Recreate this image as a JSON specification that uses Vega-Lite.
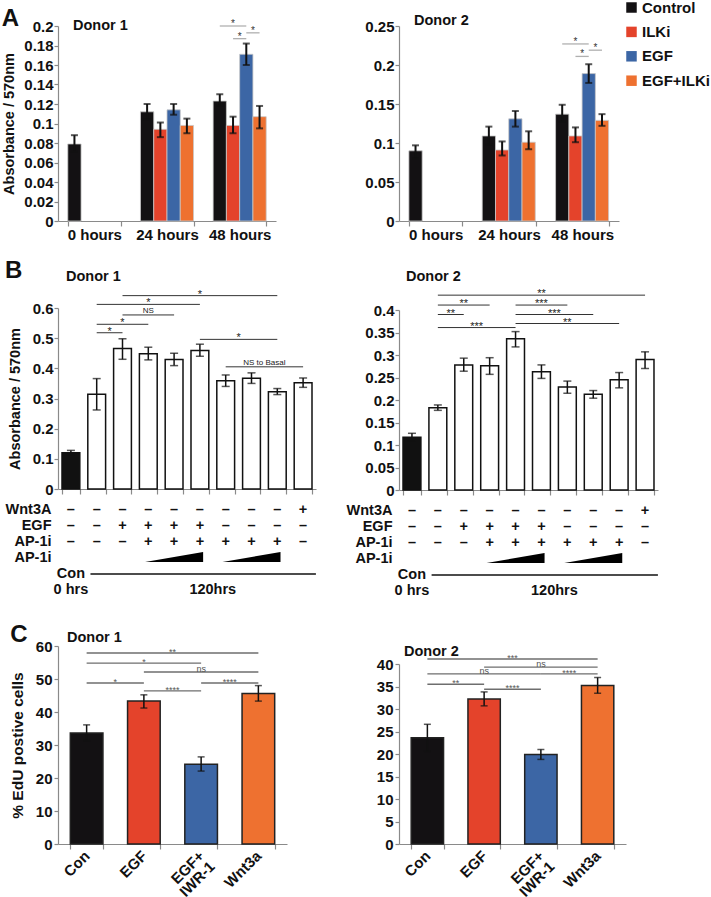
{
  "$schema": "https://vega.github.io/schema/vega-lite/v6.json",
  "background": "white",
  "padding": {"left": 1, "top": 0, "right": 0, "bottom": 20},
  "spacing": 29,
  "resolve": {"scale": {"color": "independent"}, "legend": {"color": "independent"}},
  "datasets": {
    "a1": [
      {"time": "0 hours", "treatment": "Control", "mean": 0.079, "lo": 0.071, "hi": 0.088},
      {"time": "24 hours", "treatment": "Control", "mean": 0.112, "lo": 0.104, "hi": 0.120},
      {"time": "24 hours", "treatment": "ILKi", "mean": 0.094, "lo": 0.086, "hi": 0.101},
      {"time": "24 hours", "treatment": "EGF", "mean": 0.114, "lo": 0.109, "hi": 0.120},
      {"time": "24 hours", "treatment": "EGF+ILKi", "mean": 0.098, "lo": 0.090, "hi": 0.105},
      {"time": "48 hours", "treatment": "Control", "mean": 0.123, "lo": 0.118, "hi": 0.130},
      {"time": "48 hours", "treatment": "ILKi", "mean": 0.098, "lo": 0.090, "hi": 0.107},
      {"time": "48 hours", "treatment": "EGF", "mean": 0.171, "lo": 0.160, "hi": 0.182},
      {"time": "48 hours", "treatment": "EGF+ILKi", "mean": 0.107, "lo": 0.095, "hi": 0.118}
    ],
    "a1lines": [
      {"id": "a", "time": "48 hours", "treatment": "Control", "y": 0.2},
      {"id": "a", "time": "48 hours", "treatment": "EGF", "y": 0.2},
      {"id": "b", "time": "48 hours", "treatment": "ILKi", "y": 0.187},
      {"id": "b", "time": "48 hours", "treatment": "EGF", "y": 0.187},
      {"id": "c", "time": "48 hours", "treatment": "EGF", "y": 0.193},
      {"id": "c", "time": "48 hours", "treatment": "EGF+ILKi", "y": 0.193}
    ],
    "a1stars": [
      {"time": "48 hours", "at": "ILKi", "y": 0.2, "label": "*", "pos": "center"},
      {"time": "48 hours", "at": "ILKi", "y": 0.187, "label": "*", "pos": "between"},
      {"time": "48 hours", "at": "EGF", "y": 0.193, "label": "*", "pos": "between"}
    ],
    "a2": [
      {"time": "0 hours", "treatment": "Control", "mean": 0.090, "lo": 0.080, "hi": 0.097},
      {"time": "24 hours", "treatment": "Control", "mean": 0.109, "lo": 0.098, "hi": 0.121},
      {"time": "24 hours", "treatment": "ILKi", "mean": 0.091, "lo": 0.084, "hi": 0.102},
      {"time": "24 hours", "treatment": "EGF", "mean": 0.131, "lo": 0.121, "hi": 0.141},
      {"time": "24 hours", "treatment": "EGF+ILKi", "mean": 0.101, "lo": 0.092, "hi": 0.115},
      {"time": "48 hours", "treatment": "Control", "mean": 0.137, "lo": 0.127, "hi": 0.149},
      {"time": "48 hours", "treatment": "ILKi", "mean": 0.109, "lo": 0.101, "hi": 0.120},
      {"time": "48 hours", "treatment": "EGF", "mean": 0.189, "lo": 0.177, "hi": 0.201},
      {"time": "48 hours", "treatment": "EGF+ILKi", "mean": 0.129, "lo": 0.122, "hi": 0.137}
    ],
    "a2lines": [
      {"id": "a", "time": "48 hours", "treatment": "Control", "y": 0.227},
      {"id": "a", "time": "48 hours", "treatment": "EGF", "y": 0.227},
      {"id": "b", "time": "48 hours", "treatment": "ILKi", "y": 0.211},
      {"id": "b", "time": "48 hours", "treatment": "EGF", "y": 0.211},
      {"id": "c", "time": "48 hours", "treatment": "EGF", "y": 0.219},
      {"id": "c", "time": "48 hours", "treatment": "EGF+ILKi", "y": 0.219}
    ],
    "a2stars": [
      {"time": "48 hours", "at": "ILKi", "y": 0.227, "label": "*", "pos": "center"},
      {"time": "48 hours", "at": "ILKi", "y": 0.211, "label": "*", "pos": "between"},
      {"time": "48 hours", "at": "EGF", "y": 0.219, "label": "*", "pos": "between"}
    ],
    "b1": [
      {"cond": "1", "group": "basal", "mean": 0.120, "lo": 0.112, "hi": 0.128},
      {"cond": "2", "group": "treated", "mean": 0.314, "lo": 0.262, "hi": 0.366},
      {"cond": "3", "group": "treated", "mean": 0.466, "lo": 0.430, "hi": 0.498},
      {"cond": "4", "group": "treated", "mean": 0.448, "lo": 0.428, "hi": 0.470},
      {"cond": "5", "group": "treated", "mean": 0.429, "lo": 0.409, "hi": 0.450},
      {"cond": "6", "group": "treated", "mean": 0.459, "lo": 0.440, "hi": 0.480},
      {"cond": "7", "group": "treated", "mean": 0.359, "lo": 0.340, "hi": 0.378},
      {"cond": "8", "group": "treated", "mean": 0.367, "lo": 0.350, "hi": 0.385},
      {"cond": "9", "group": "treated", "mean": 0.322, "lo": 0.313, "hi": 0.333},
      {"cond": "10", "group": "treated", "mean": 0.352, "lo": 0.337, "hi": 0.368}
    ],
    "b1sig": [
      {"from": "3", "to": "9", "y": 0.641, "label": "*", "at": "6", "pos": "center"},
      {"from": "2", "to": "6", "y": 0.612, "label": "*", "at": "4", "pos": "center"},
      {"from": "3", "to": "5", "y": 0.577, "label": "NS", "at": "4", "pos": "center"},
      {"from": "2", "to": "4", "y": 0.546, "label": "*", "at": "3", "pos": "center"},
      {"from": "2", "to": "3", "y": 0.518, "label": "*", "at": "2", "pos": "between"},
      {"from": "6", "to": "9", "y": 0.496, "label": "*", "at": "7", "pos": "between"},
      {"from": "7", "to": "10", "y": 0.405, "label": "NS to Basal", "at": "8", "pos": "between"}
    ],
    "b2": [
      {"cond": "1", "group": "basal", "mean": 0.117, "lo": 0.109, "hi": 0.126},
      {"cond": "2", "group": "treated", "mean": 0.183, "lo": 0.177, "hi": 0.189},
      {"cond": "3", "group": "treated", "mean": 0.278, "lo": 0.264, "hi": 0.293},
      {"cond": "4", "group": "treated", "mean": 0.276, "lo": 0.257, "hi": 0.294},
      {"cond": "5", "group": "treated", "mean": 0.336, "lo": 0.318, "hi": 0.352},
      {"cond": "6", "group": "treated", "mean": 0.263, "lo": 0.248, "hi": 0.278},
      {"cond": "7", "group": "treated", "mean": 0.229, "lo": 0.215, "hi": 0.242},
      {"cond": "8", "group": "treated", "mean": 0.213, "lo": 0.204, "hi": 0.221},
      {"cond": "9", "group": "treated", "mean": 0.245, "lo": 0.227, "hi": 0.261},
      {"cond": "10", "group": "treated", "mean": 0.290, "lo": 0.270, "hi": 0.307}
    ],
    "b2sig": [
      {"from": "2", "to": "10", "y": 0.433, "label": "**", "at": "6", "pos": "center"},
      {"from": "2", "to": "4", "y": 0.411, "label": "**", "at": "3", "pos": "center"},
      {"from": "5", "to": "7", "y": 0.411, "label": "***", "at": "6", "pos": "center"},
      {"from": "2", "to": "3", "y": 0.390, "label": "**", "at": "2", "pos": "between"},
      {"from": "5", "to": "8", "y": 0.390, "label": "***", "at": "6", "pos": "between"},
      {"from": "5", "to": "9", "y": 0.370, "label": "**", "at": "7", "pos": "center"},
      {"from": "2", "to": "5", "y": 0.361, "label": "***", "at": "3", "pos": "between"}
    ],
    "btab": [
      {"cond": "1", "row": "Wnt3A", "sym": "–"}, {"cond": "2", "row": "Wnt3A", "sym": "–"}, {"cond": "3", "row": "Wnt3A", "sym": "–"}, {"cond": "4", "row": "Wnt3A", "sym": "–"}, {"cond": "5", "row": "Wnt3A", "sym": "–"},
      {"cond": "6", "row": "Wnt3A", "sym": "–"}, {"cond": "7", "row": "Wnt3A", "sym": "–"}, {"cond": "8", "row": "Wnt3A", "sym": "–"}, {"cond": "9", "row": "Wnt3A", "sym": "–"}, {"cond": "10", "row": "Wnt3A", "sym": "+"},
      {"cond": "1", "row": "EGF", "sym": "–"}, {"cond": "2", "row": "EGF", "sym": "–"}, {"cond": "3", "row": "EGF", "sym": "+"}, {"cond": "4", "row": "EGF", "sym": "+"}, {"cond": "5", "row": "EGF", "sym": "+"},
      {"cond": "6", "row": "EGF", "sym": "+"}, {"cond": "7", "row": "EGF", "sym": "–"}, {"cond": "8", "row": "EGF", "sym": "–"}, {"cond": "9", "row": "EGF", "sym": "–"}, {"cond": "10", "row": "EGF", "sym": "–"},
      {"cond": "1", "row": "AP-1i", "sym": "–"}, {"cond": "2", "row": "AP-1i", "sym": "–"}, {"cond": "3", "row": "AP-1i", "sym": "–"}, {"cond": "4", "row": "AP-1i", "sym": "+"}, {"cond": "5", "row": "AP-1i", "sym": "+"},
      {"cond": "6", "row": "AP-1i", "sym": "+"}, {"cond": "7", "row": "AP-1i", "sym": "+"}, {"cond": "8", "row": "AP-1i", "sym": "+"}, {"cond": "9", "row": "AP-1i", "sym": "+"}, {"cond": "10", "row": "AP-1i", "sym": "–"},
      {"cond": "1", "row": "time1", "sym": "Con"}, {"cond": "1", "row": "time2", "sym": "0 hrs"}
    ],
    "bwedge": [
      {"cond": "5", "row": "AP-1i dose"},
      {"cond": "8", "row": "AP-1i dose"}
    ],
    "bperiod": [
      {"from": "2", "to": "10", "linerow": "time1", "label": "120hrs", "at": "6", "row": "time2"}
    ],
    "c1": [
      {"cond": "Con", "mean": 33.6, "lo": 31.3, "hi": 36.1},
      {"cond": "EGF", "mean": 43.3, "lo": 41.2, "hi": 45.2},
      {"cond": "EGF+IWR-1", "mean": 24.2, "lo": 22.1, "hi": 26.4},
      {"cond": "Wnt3a", "mean": 45.6, "lo": 43.3, "hi": 48.0}
    ],
    "c1sig": [
      {"from": "Con", "to": "Wnt3a", "y": 57.9, "label": "**", "at": "EGF", "pos": "between"},
      {"from": "Con", "to": "EGF+IWR-1", "y": 54.8, "label": "*", "at": "EGF", "pos": "center"},
      {"from": "EGF", "to": "Wnt3a", "y": 52.1, "label": "ns", "at": "EGF+IWR-1", "pos": "center"},
      {"from": "Con", "to": "EGF", "y": 48.8, "label": "*", "at": "Con", "pos": "between"},
      {"from": "EGF+IWR-1", "to": "Wnt3a", "y": 48.8, "label": "****", "at": "EGF+IWR-1", "pos": "between"},
      {"from": "EGF", "to": "EGF+IWR-1", "y": 46.4, "label": "****", "at": "EGF", "pos": "between"}
    ],
    "c2": [
      {"cond": "Con", "mean": 23.6, "lo": 20.6, "hi": 26.6},
      {"cond": "EGF", "mean": 32.2, "lo": 30.7, "hi": 33.8},
      {"cond": "EGF+IWR-1", "mean": 19.9, "lo": 18.8, "hi": 21.0},
      {"cond": "Wnt3a", "mean": 35.2, "lo": 33.5, "hi": 37.0}
    ],
    "c2sig": [
      {"from": "Con", "to": "Wnt3a", "y": 41.1, "label": "***", "at": "EGF", "pos": "between"},
      {"from": "EGF", "to": "Wnt3a", "y": 39.3, "label": "ns", "at": "EGF+IWR-1", "pos": "center"},
      {"from": "Con", "to": "EGF+IWR-1", "y": 37.8, "label": "ns", "at": "EGF", "pos": "center"},
      {"from": "EGF+IWR-1", "to": "Wnt3a", "y": 37.8, "label": "****", "at": "EGF+IWR-1", "pos": "between"},
      {"from": "Con", "to": "EGF", "y": 35.5, "label": "**", "at": "Con", "pos": "between"},
      {"from": "EGF", "to": "EGF+IWR-1", "y": 34.4, "label": "****", "at": "EGF", "pos": "between"}
    ]
  },
  "hconcat": [
    {
      "spacing": 17,
      "resolve": {"scale": {"color": "independent"}, "legend": {"color": "independent"}},
      "vconcat": [
        {
          "title": {"text": "A", "fontSize": 24, "frame": "bounds", "anchor": "start", "offset": -13},
          "resolve": {"scale": {"color": "independent"}, "legend": {"color": "independent"}},
          "vconcat": [
            {
              "width": 218, "height": 195,
              "title": {"text": "Donor 1", "fontSize": 14.5, "dx": 15, "offset": -14},
              "layer": [
                {"data": {"name": "a1"}, "mark": {"type": "bar", "stroke": "#c8c8c8", "strokeWidth": 0.8},
                 "encoding": {
                   "x": {"field": "time", "type": "nominal", "scale": {"domain": ["0 hours", "24 hours", "48 hours"], "paddingInner": 0.27, "paddingOuter": 0.135}, "axis": {"title": null, "labelAngle": 0, "tickBand": "extent", "tickSize": 5, "labelPadding": 1}},
                   "xOffset": {"field": "treatment", "type": "nominal", "scale": {"domain": ["Control", "ILKi", "EGF", "EGF+ILKi"], "paddingInner": 0, "paddingOuter": 0}},
                   "y": {"field": "mean", "type": "quantitative", "scale": {"domain": [0, 0.2], "nice": false}, "axis": {"title": "Absorbance / 570nm", "values": [0, 0.02, 0.04, 0.06, 0.08, 0.1, 0.12, 0.14, 0.16, 0.18, 0.2], "tickCount": 40, "format": "~g", "labelOverlap": false, "tickSize": 4, "labelPadding": 1, "titlePadding": 7}},
                   "color": {"field": "treatment", "type": "nominal", "scale": {"domain": ["Control", "ILKi", "EGF", "EGF+ILKi"], "range": ["#131113", "#E4432B", "#3C66A5", "#EE7130"]}, "legend": null}
                 }},
                {"data": {"name": "a1"}, "mark": {"type": "rule", "color": "#111", "strokeWidth": 2},
                 "encoding": {"x": {"field": "time", "type": "nominal"}, "xOffset": {"field": "treatment", "type": "nominal"}, "y": {"field": "lo", "type": "quantitative"}, "y2": {"field": "hi"}}},
                {"data": {"name": "a1"}, "mark": {"type": "tick", "color": "#111", "thickness": 2, "size": 7},
                 "encoding": {"x": {"field": "time", "type": "nominal"}, "xOffset": {"field": "treatment", "type": "nominal"}, "y": {"field": "lo", "type": "quantitative"}}},
                {"data": {"name": "a1"}, "mark": {"type": "tick", "color": "#111", "thickness": 2, "size": 7},
                 "encoding": {"x": {"field": "time", "type": "nominal"}, "xOffset": {"field": "treatment", "type": "nominal"}, "y": {"field": "hi", "type": "quantitative"}}},
                {"data": {"name": "a1lines"}, "mark": {"type": "line", "color": "#b0b0b0", "strokeWidth": 1.3},
                 "encoding": {"x": {"field": "time", "type": "nominal"}, "xOffset": {"field": "treatment", "type": "nominal"}, "y": {"field": "y", "type": "quantitative"}, "detail": {"field": "id", "type": "nominal"}}},
                {"data": {"name": "a1stars"}, "transform": [{"filter": "datum.pos == 'center'"}], "mark": {"type": "text", "fontSize": 10, "color": "#333", "baseline": "middle", "dy": -2},
                 "encoding": {"x": {"field": "time", "type": "nominal"}, "xOffset": {"field": "at", "type": "nominal"}, "y": {"field": "y", "type": "quantitative"}, "text": {"field": "label"}}},
                {"data": {"name": "a1stars"}, "transform": [{"filter": "datum.pos == 'between'"}], "mark": {"type": "text", "fontSize": 10, "color": "#333", "baseline": "middle", "dy": -2, "dx": 6.6},
                 "encoding": {"x": {"field": "time", "type": "nominal"}, "xOffset": {"field": "at", "type": "nominal"}, "y": {"field": "y", "type": "quantitative"}, "text": {"field": "label"}}}
              ]
            }
          ]
        },
        {
          "spacing": 24,
          "resolve": {"scale": {"color": "independent"}, "legend": {"color": "independent"}},
          "vconcat": [
            {
              "title": {"text": "B", "fontSize": 24, "frame": "bounds", "anchor": "start", "offset": -14},
              "spacing": 4,
              "resolve": {"scale": {"color": "independent"}, "legend": {"color": "independent"}},
              "vconcat": [
                {
                  "width": 258, "height": 181,
                  "title": {"text": "Donor 1", "fontSize": 14.5, "dx": 8, "offset": 4},
                  "layer": [
                    {"data": {"name": "b1"}, "transform": [{"filter": "datum.group == 'basal'"}], "mark": {"type": "bar", "fill": "#111", "stroke": "#111", "strokeWidth": 1.5},
                     "encoding": {
                       "x": {"field": "cond", "type": "ordinal", "scale": {"domain": ["1", "2", "3", "4", "5", "6", "7", "8", "9", "10"], "paddingInner": 0.31, "paddingOuter": 0.155}, "axis": {"title": null, "labels": false, "tickBand": "extent", "tickSize": 5}},
                       "y": {"field": "mean", "type": "quantitative", "scale": {"domain": [0, 0.6], "nice": false}, "axis": {"title": "Absorbance / 570nm", "values": [0, 0.1, 0.2, 0.3, 0.4, 0.5, 0.6], "tickCount": 40, "format": "~g", "labelOverlap": false, "tickSize": 4, "labelPadding": 1, "titlePadding": 10}}
                     }},
                    {"data": {"name": "b1"}, "transform": [{"filter": "datum.group != 'basal'"}], "mark": {"type": "bar", "fill": "#ffffff", "stroke": "#111", "strokeWidth": 1.5},
                     "encoding": {"x": {"field": "cond", "type": "ordinal"}, "y": {"field": "mean", "type": "quantitative"}}},
                    {"data": {"name": "b1"}, "mark": {"type": "rule", "color": "#111", "strokeWidth": 1.5},
                     "encoding": {"x": {"field": "cond", "type": "ordinal"}, "y": {"field": "lo", "type": "quantitative"}, "y2": {"field": "hi"}}},
                    {"data": {"name": "b1"}, "mark": {"type": "tick", "color": "#111", "thickness": 1.5, "size": 8},
                     "encoding": {"x": {"field": "cond", "type": "ordinal"}, "y": {"field": "lo", "type": "quantitative"}}},
                    {"data": {"name": "b1"}, "mark": {"type": "tick", "color": "#111", "thickness": 1.5, "size": 8},
                     "encoding": {"x": {"field": "cond", "type": "ordinal"}, "y": {"field": "hi", "type": "quantitative"}}},
                    {"data": {"name": "b1sig"}, "mark": {"type": "rule", "color": "#333", "strokeWidth": 1},
                     "encoding": {"x": {"field": "from", "type": "ordinal", "bandPosition": 0.5}, "x2": {"field": "to", "bandPosition": 0.5}, "y": {"field": "y", "type": "quantitative"}}},
                    {"data": {"name": "b1sig"}, "transform": [{"filter": "datum.pos == 'center' && indexof(datum.label, '*') >= 0"}], "mark": {"type": "text", "fontSize": 11, "color": "#222", "baseline": "middle", "dy": -1},
                     "encoding": {"x": {"field": "at", "type": "ordinal", "bandPosition": 0.5}, "y": {"field": "y", "type": "quantitative"}, "text": {"field": "label"}}},
                    {"data": {"name": "b1sig"}, "transform": [{"filter": "datum.pos == 'between' && indexof(datum.label, '*') >= 0"}], "mark": {"type": "text", "fontSize": 11, "color": "#222", "baseline": "middle", "dy": -1},
                     "encoding": {"x": {"field": "at", "type": "ordinal", "bandPosition": 1.2246}, "y": {"field": "y", "type": "quantitative"}, "text": {"field": "label"}}},
                    {"data": {"name": "b1sig"}, "transform": [{"filter": "datum.pos == 'center' && indexof(datum.label, '*') < 0"}], "mark": {"type": "text", "fontSize": 8, "color": "#222", "baseline": "middle", "dy": -4},
                     "encoding": {"x": {"field": "at", "type": "ordinal", "bandPosition": 0.5}, "y": {"field": "y", "type": "quantitative"}, "text": {"field": "label"}}},
                    {"data": {"name": "b1sig"}, "transform": [{"filter": "datum.pos == 'between' && indexof(datum.label, '*') < 0"}], "mark": {"type": "text", "fontSize": 8, "color": "#222", "baseline": "middle", "dy": -4},
                     "encoding": {"x": {"field": "at", "type": "ordinal", "bandPosition": 1.2246}, "y": {"field": "y", "type": "quantitative"}, "text": {"field": "label"}}}
                  ]
                },
                {
                  "width": 258, "height": 96,
                  "layer": [
                    {"data": {"name": "btab"}, "mark": {"type": "text", "fontSize": 14.5, "fontWeight": "bold", "color": "#111"},
                     "encoding": {
                       "x": {"field": "cond", "type": "ordinal", "scale": {"domain": ["1", "2", "3", "4", "5", "6", "7", "8", "9", "10"], "paddingInner": 0.31, "paddingOuter": 0.155}, "axis": null},
                       "y": {"field": "row", "type": "nominal", "scale": {"domain": ["Wnt3A", "EGF", "AP-1i", "AP-1i dose", "time1", "time2"], "paddingInner": 0, "paddingOuter": 0}, "axis": {"title": null, "domain": false, "ticks": false, "labelPadding": 7, "labelFontSize": 14.5, "labelExpr": "datum.value == 'AP-1i dose' ? 'AP-1i' : ((datum.value == 'time1' || datum.value == 'time2') ? '' : datum.value)"}},
                       "text": {"field": "sym"}
                     }},
                    {"data": {"name": "bwedge"}, "mark": {"type": "point", "shape": "M-1,0.14L1,0.14L1,-0.21Z", "filled": true, "fill": "#000", "size": 3364, "opacity": 1, "strokeWidth": 0},
                     "encoding": {"x": {"field": "cond", "type": "ordinal"}, "y": {"field": "row", "type": "nominal"}}},
                    {"data": {"name": "bperiod"}, "mark": {"type": "rule", "color": "#111", "strokeWidth": 1.3},
                     "encoding": {"x": {"field": "from", "type": "ordinal", "bandPosition": 0.15}, "x2": {"field": "to", "bandPosition": 1.22}, "y": {"field": "linerow", "type": "nominal"}}},
                    {"data": {"name": "bperiod"}, "mark": {"type": "text", "fontSize": 14.5, "fontWeight": "bold", "color": "#111"},
                     "encoding": {"x": {"field": "at", "type": "ordinal", "bandPosition": 1.2246}, "y": {"field": "row", "type": "nominal"}, "text": {"field": "label"}}}
                  ]
                }
              ]
            },
            {
              "title": {"text": "C", "fontSize": 24, "frame": "bounds", "anchor": "start", "offset": -17},
              "resolve": {"scale": {"color": "independent"}, "legend": {"color": "independent"}},
              "vconcat": [
                {
                  "width": 229, "height": 198,
                  "title": {"text": "Donor 1", "fontSize": 14.5, "dx": 9, "offset": -6},
                  "layer": [
                    {"data": {"name": "c1"}, "mark": {"type": "bar", "stroke": "#222", "strokeWidth": 1.5},
                     "encoding": {
                       "x": {"field": "cond", "type": "ordinal", "scale": {"domain": ["Con", "EGF", "EGF+IWR-1", "Wnt3a"], "paddingInner": 0.43, "paddingOuter": 0.215}, "axis": {"title": null, "labelAngle": -45, "labelAlign": "right", "labelBaseline": "middle", "labelPadding": 4, "tickBand": "extent", "tickSize": 5, "labelLineHeight": 15, "labelExpr": "datum.value == 'EGF+IWR-1' ? ['EGF+', 'IWR-1'] : datum.value"}},
                       "y": {"field": "mean", "type": "quantitative", "scale": {"domain": [0, 60], "nice": false}, "axis": {"title": "% EdU postive cells", "titleFontSize": 15.5, "values": [0, 10, 20, 30, 40, 50, 60], "tickCount": 40, "labelOverlap": false, "tickSize": 4, "labelPadding": 2, "titlePadding": 10}},
                       "color": {"field": "cond", "type": "nominal", "scale": {"domain": ["Con", "EGF", "EGF+IWR-1", "Wnt3a"], "range": ["#131113", "#E4432B", "#3C66A5", "#EE7130"]}, "legend": null}
                     }},
                    {"data": {"name": "c1"}, "mark": {"type": "rule", "color": "#111", "strokeWidth": 1.5},
                     "encoding": {"x": {"field": "cond", "type": "ordinal"}, "y": {"field": "lo", "type": "quantitative"}, "y2": {"field": "hi"}}},
                    {"data": {"name": "c1"}, "mark": {"type": "tick", "color": "#111", "thickness": 1.5, "size": 7},
                     "encoding": {"x": {"field": "cond", "type": "ordinal"}, "y": {"field": "lo", "type": "quantitative"}}},
                    {"data": {"name": "c1"}, "mark": {"type": "tick", "color": "#111", "thickness": 1.5, "size": 7},
                     "encoding": {"x": {"field": "cond", "type": "ordinal"}, "y": {"field": "hi", "type": "quantitative"}}},
                    {"data": {"name": "c1sig"}, "mark": {"type": "rule", "color": "#6e6e6e", "strokeWidth": 1.4},
                     "encoding": {"x": {"field": "from", "type": "ordinal", "bandPosition": 0.5}, "x2": {"field": "to", "bandPosition": 0.5}, "y": {"field": "y", "type": "quantitative"}}},
                    {"data": {"name": "c1sig"}, "transform": [{"filter": "datum.pos == 'center' && indexof(datum.label, '*') >= 0"}], "mark": {"type": "text", "fontSize": 9, "color": "#555", "baseline": "middle", "dy": -1},
                     "encoding": {"x": {"field": "at", "type": "ordinal", "bandPosition": 0.5}, "y": {"field": "y", "type": "quantitative"}, "text": {"field": "label"}}},
                    {"data": {"name": "c1sig"}, "transform": [{"filter": "datum.pos == 'between' && indexof(datum.label, '*') >= 0"}], "mark": {"type": "text", "fontSize": 9, "color": "#555", "baseline": "middle", "dy": -1},
                     "encoding": {"x": {"field": "at", "type": "ordinal", "bandPosition": 1.377}, "y": {"field": "y", "type": "quantitative"}, "text": {"field": "label"}}},
                    {"data": {"name": "c1sig"}, "transform": [{"filter": "datum.pos == 'center' && indexof(datum.label, '*') < 0"}], "mark": {"type": "text", "fontSize": 9, "color": "#555", "baseline": "middle", "dy": -3},
                     "encoding": {"x": {"field": "at", "type": "ordinal", "bandPosition": 0.5}, "y": {"field": "y", "type": "quantitative"}, "text": {"field": "label"}}}
                  ]
                }
              ]
            }
          ]
        }
      ]
    },
    {
      "spacing": 26,
      "resolve": {"scale": {"color": "independent"}, "legend": {"color": "independent"}},
      "vconcat": [
        {
          "width": 220, "height": 195,
          "title": {"text": "Donor 2", "fontSize": 14.5, "dx": 15, "offset": -28},
          "layer": [
            {"data": {"name": "a2"}, "mark": {"type": "bar", "stroke": "#c8c8c8", "strokeWidth": 0.8},
             "encoding": {
               "x": {"field": "time", "type": "nominal", "scale": {"domain": ["0 hours", "24 hours", "48 hours"], "paddingInner": 0.27, "paddingOuter": 0.135}, "axis": {"title": null, "labelAngle": 0, "tickBand": "extent", "tickSize": 5, "labelPadding": 1}},
               "xOffset": {"field": "treatment", "type": "nominal", "scale": {"domain": ["Control", "ILKi", "EGF", "EGF+ILKi"], "paddingInner": 0, "paddingOuter": 0}},
               "y": {"field": "mean", "type": "quantitative", "scale": {"domain": [0, 0.25], "nice": false}, "axis": {"title": null, "values": [0, 0.05, 0.1, 0.15, 0.2, 0.25], "tickCount": 40, "format": "~g", "labelOverlap": false, "tickSize": 4, "labelPadding": 1}},
               "color": {"field": "treatment", "type": "nominal", "scale": {"domain": ["Control", "ILKi", "EGF", "EGF+ILKi"], "range": ["#131113", "#E4432B", "#3C66A5", "#EE7130"]},
                 "legend": {"orient": "none", "legendX": 225, "legendY": -26, "title": null, "symbolType": "square", "symbolSize": 110, "symbolStrokeWidth": 0, "labelFontSize": 15, "labelFontWeight": "bold", "labelFont": "Liberation Sans", "labelColor": "#111", "labelOffset": 3, "rowPadding": 8.4, "padding": 0}}
             }},
            {"data": {"name": "a2"}, "mark": {"type": "rule", "color": "#111", "strokeWidth": 2},
             "encoding": {"x": {"field": "time", "type": "nominal"}, "xOffset": {"field": "treatment", "type": "nominal"}, "y": {"field": "lo", "type": "quantitative"}, "y2": {"field": "hi"}}},
            {"data": {"name": "a2"}, "mark": {"type": "tick", "color": "#111", "thickness": 2, "size": 7},
             "encoding": {"x": {"field": "time", "type": "nominal"}, "xOffset": {"field": "treatment", "type": "nominal"}, "y": {"field": "lo", "type": "quantitative"}}},
            {"data": {"name": "a2"}, "mark": {"type": "tick", "color": "#111", "thickness": 2, "size": 7},
             "encoding": {"x": {"field": "time", "type": "nominal"}, "xOffset": {"field": "treatment", "type": "nominal"}, "y": {"field": "hi", "type": "quantitative"}}},
            {"data": {"name": "a2lines"}, "mark": {"type": "line", "color": "#b0b0b0", "strokeWidth": 1.3},
             "encoding": {"x": {"field": "time", "type": "nominal"}, "xOffset": {"field": "treatment", "type": "nominal"}, "y": {"field": "y", "type": "quantitative"}, "detail": {"field": "id", "type": "nominal"}}},
            {"data": {"name": "a2stars"}, "transform": [{"filter": "datum.pos == 'center'"}], "mark": {"type": "text", "fontSize": 10, "color": "#333", "baseline": "middle", "dy": -2},
             "encoding": {"x": {"field": "time", "type": "nominal"}, "xOffset": {"field": "at", "type": "nominal"}, "y": {"field": "y", "type": "quantitative"}, "text": {"field": "label"}}},
            {"data": {"name": "a2stars"}, "transform": [{"filter": "datum.pos == 'between'"}], "mark": {"type": "text", "fontSize": 10, "color": "#333", "baseline": "middle", "dy": -2, "dx": 6.7},
             "encoding": {"x": {"field": "time", "type": "nominal"}, "xOffset": {"field": "at", "type": "nominal"}, "y": {"field": "y", "type": "quantitative"}, "text": {"field": "label"}}}
          ]
        },
        {
          "spacing": 44,
          "resolve": {"scale": {"color": "independent"}, "legend": {"color": "independent"}},
          "vconcat": [
            {
              "spacing": 4,
              "resolve": {"scale": {"color": "independent"}, "legend": {"color": "independent"}},
              "vconcat": [
                {
                  "width": 259, "height": 180,
                  "title": {"text": "Donor 2", "fontSize": 14.5, "dx": 7, "offset": 4},
                  "layer": [
                    {"data": {"name": "b2"}, "transform": [{"filter": "datum.group == 'basal'"}], "mark": {"type": "bar", "fill": "#111", "stroke": "#111", "strokeWidth": 1.5},
                     "encoding": {
                       "x": {"field": "cond", "type": "ordinal", "scale": {"domain": ["1", "2", "3", "4", "5", "6", "7", "8", "9", "10"], "paddingInner": 0.31, "paddingOuter": 0.155}, "axis": {"title": null, "labels": false, "tickBand": "extent", "tickSize": 5}},
                       "y": {"field": "mean", "type": "quantitative", "scale": {"domain": [0, 0.4], "nice": false}, "axis": {"title": null, "values": [0, 0.05, 0.1, 0.15, 0.2, 0.25, 0.3, 0.35, 0.4], "tickCount": 40, "format": "~g", "labelOverlap": false, "tickSize": 4, "labelPadding": 1}}
                     }},
                    {"data": {"name": "b2"}, "transform": [{"filter": "datum.group != 'basal'"}], "mark": {"type": "bar", "fill": "#ffffff", "stroke": "#111", "strokeWidth": 1.5},
                     "encoding": {"x": {"field": "cond", "type": "ordinal"}, "y": {"field": "mean", "type": "quantitative"}}},
                    {"data": {"name": "b2"}, "mark": {"type": "rule", "color": "#111", "strokeWidth": 1.5},
                     "encoding": {"x": {"field": "cond", "type": "ordinal"}, "y": {"field": "lo", "type": "quantitative"}, "y2": {"field": "hi"}}},
                    {"data": {"name": "b2"}, "mark": {"type": "tick", "color": "#111", "thickness": 1.5, "size": 8},
                     "encoding": {"x": {"field": "cond", "type": "ordinal"}, "y": {"field": "lo", "type": "quantitative"}}},
                    {"data": {"name": "b2"}, "mark": {"type": "tick", "color": "#111", "thickness": 1.5, "size": 8},
                     "encoding": {"x": {"field": "cond", "type": "ordinal"}, "y": {"field": "hi", "type": "quantitative"}}},
                    {"data": {"name": "b2sig"}, "mark": {"type": "rule", "color": "#333", "strokeWidth": 1},
                     "encoding": {"x": {"field": "from", "type": "ordinal", "bandPosition": 0.5}, "x2": {"field": "to", "bandPosition": 0.5}, "y": {"field": "y", "type": "quantitative"}}},
                    {"data": {"name": "b2sig"}, "transform": [{"filter": "datum.pos == 'center'"}], "mark": {"type": "text", "fontSize": 11, "color": "#222", "baseline": "middle", "dy": -1},
                     "encoding": {"x": {"field": "at", "type": "ordinal", "bandPosition": 0.5}, "y": {"field": "y", "type": "quantitative"}, "text": {"field": "label"}}},
                    {"data": {"name": "b2sig"}, "transform": [{"filter": "datum.pos == 'between'"}], "mark": {"type": "text", "fontSize": 11, "color": "#222", "baseline": "middle", "dy": -1},
                     "encoding": {"x": {"field": "at", "type": "ordinal", "bandPosition": 1.2246}, "y": {"field": "y", "type": "quantitative"}, "text": {"field": "label"}}}
                  ]
                },
                {
                  "width": 259, "height": 96,
                  "layer": [
                    {"data": {"name": "btab"}, "mark": {"type": "text", "fontSize": 14.5, "fontWeight": "bold", "color": "#111"},
                     "encoding": {
                       "x": {"field": "cond", "type": "ordinal", "scale": {"domain": ["1", "2", "3", "4", "5", "6", "7", "8", "9", "10"], "paddingInner": 0.31, "paddingOuter": 0.155}, "axis": null},
                       "y": {"field": "row", "type": "nominal", "scale": {"domain": ["Wnt3A", "EGF", "AP-1i", "AP-1i dose", "time1", "time2"], "paddingInner": 0, "paddingOuter": 0}, "axis": {"title": null, "domain": false, "ticks": false, "labelPadding": 7, "labelFontSize": 14.5, "labelExpr": "datum.value == 'AP-1i dose' ? 'AP-1i' : ((datum.value == 'time1' || datum.value == 'time2') ? '' : datum.value)"}},
                       "text": {"field": "sym"}
                     }},
                    {"data": {"name": "bwedge"}, "mark": {"type": "point", "shape": "M-1,0.14L1,0.14L1,-0.21Z", "filled": true, "fill": "#000", "size": 3364, "opacity": 1, "strokeWidth": 0},
                     "encoding": {"x": {"field": "cond", "type": "ordinal"}, "y": {"field": "row", "type": "nominal"}}},
                    {"data": {"name": "bperiod"}, "mark": {"type": "rule", "color": "#111", "strokeWidth": 1.3},
                     "encoding": {"x": {"field": "from", "type": "ordinal", "bandPosition": 0.15}, "x2": {"field": "to", "bandPosition": 1.22}, "y": {"field": "linerow", "type": "nominal"}}},
                    {"data": {"name": "bperiod"}, "mark": {"type": "text", "fontSize": 14.5, "fontWeight": "bold", "color": "#111"},
                     "encoding": {"x": {"field": "at", "type": "ordinal", "bandPosition": 1.2246}, "y": {"field": "row", "type": "nominal"}, "text": {"field": "label"}}}
                  ]
                }
              ]
            },
            {
              "width": 227, "height": 180,
              "title": {"text": "Donor 2", "fontSize": 14.5, "dx": 5, "offset": -5},
              "layer": [
                {"data": {"name": "c2"}, "mark": {"type": "bar", "stroke": "#222", "strokeWidth": 1.5},
                 "encoding": {
                   "x": {"field": "cond", "type": "ordinal", "scale": {"domain": ["Con", "EGF", "EGF+IWR-1", "Wnt3a"], "paddingInner": 0.43, "paddingOuter": 0.215}, "axis": {"title": null, "labelAngle": -45, "labelAlign": "right", "labelBaseline": "middle", "labelPadding": 4, "tickBand": "extent", "tickSize": 5, "labelLineHeight": 15, "labelExpr": "datum.value == 'EGF+IWR-1' ? ['EGF+', 'IWR-1'] : datum.value"}},
                   "y": {"field": "mean", "type": "quantitative", "scale": {"domain": [0, 40], "nice": false}, "axis": {"title": null, "values": [0, 5, 10, 15, 20, 25, 30, 35, 40], "tickCount": 40, "labelOverlap": false, "tickSize": 4, "labelPadding": 2}},
                   "color": {"field": "cond", "type": "nominal", "scale": {"domain": ["Con", "EGF", "EGF+IWR-1", "Wnt3a"], "range": ["#131113", "#E4432B", "#3C66A5", "#EE7130"]}, "legend": null}
                 }},
                {"data": {"name": "c2"}, "mark": {"type": "rule", "color": "#111", "strokeWidth": 1.5},
                 "encoding": {"x": {"field": "cond", "type": "ordinal"}, "y": {"field": "lo", "type": "quantitative"}, "y2": {"field": "hi"}}},
                {"data": {"name": "c2"}, "mark": {"type": "tick", "color": "#111", "thickness": 1.5, "size": 7},
                 "encoding": {"x": {"field": "cond", "type": "ordinal"}, "y": {"field": "lo", "type": "quantitative"}}},
                {"data": {"name": "c2"}, "mark": {"type": "tick", "color": "#111", "thickness": 1.5, "size": 7},
                 "encoding": {"x": {"field": "cond", "type": "ordinal"}, "y": {"field": "hi", "type": "quantitative"}}},
                {"data": {"name": "c2sig"}, "mark": {"type": "rule", "color": "#6e6e6e", "strokeWidth": 1.4},
                 "encoding": {"x": {"field": "from", "type": "ordinal", "bandPosition": 0.5}, "x2": {"field": "to", "bandPosition": 0.5}, "y": {"field": "y", "type": "quantitative"}}},
                {"data": {"name": "c2sig"}, "transform": [{"filter": "datum.pos == 'between' && indexof(datum.label, '*') >= 0"}], "mark": {"type": "text", "fontSize": 9, "color": "#555", "baseline": "middle", "dy": -1},
                 "encoding": {"x": {"field": "at", "type": "ordinal", "bandPosition": 1.377}, "y": {"field": "y", "type": "quantitative"}, "text": {"field": "label"}}},
                {"data": {"name": "c2sig"}, "transform": [{"filter": "datum.pos == 'center' && indexof(datum.label, '*') < 0"}], "mark": {"type": "text", "fontSize": 9, "color": "#555", "baseline": "middle", "dy": -3},
                 "encoding": {"x": {"field": "at", "type": "ordinal", "bandPosition": 0.5}, "y": {"field": "y", "type": "quantitative"}, "text": {"field": "label"}}}
              ]
            }
          ]
        }
      ]
    }
  ],
  "config": {
    "font": "Liberation Sans",
    "view": {"stroke": null},
    "axis": {"labelFont": "Liberation Sans", "titleFont": "Liberation Sans", "labelFontWeight": "bold", "titleFontWeight": "bold", "labelColor": "#111", "titleColor": "#111", "labelFontSize": 15, "titleFontSize": 14.5, "grid": false, "domainColor": "#8a8a8a", "tickColor": "#8a8a8a", "domainWidth": 1.2, "tickWidth": 1.2, "labelOverlap": false, "labelFlush": false},
    "title": {"font": "Liberation Sans", "fontWeight": "bold", "color": "#111", "anchor": "start", "frame": "group"}
  }
}
